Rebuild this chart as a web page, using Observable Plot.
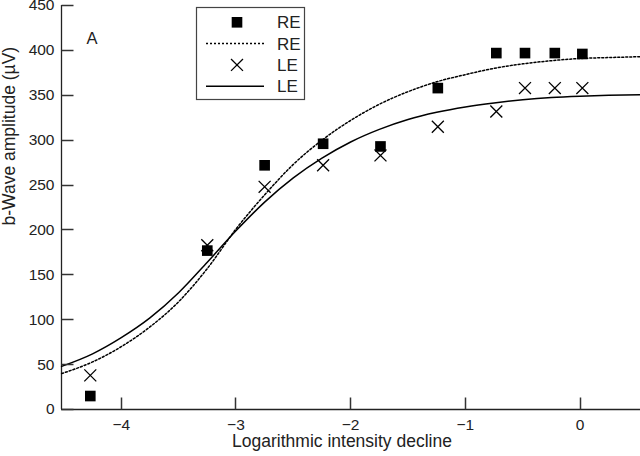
<!DOCTYPE html>
<html><head><meta charset="utf-8">
<script src="https://cdn.jsdelivr.net/npm/d3@7"></script>
<script src="https://cdn.jsdelivr.net/npm/@observablehq/plot@0.6"></script>
<style>
body{margin:0;background:#fff;}
#chart{width:640px;height:456px;}
</style></head><body><div id="chart"></div>
<script>
// Measured data points
const pointX   = [-4.27, -3.25, -2.75, -2.24, -1.74, -1.24, -0.73, -0.48, -0.22, 0.02];
const reValues = [15, 177, 272, 296, 293, 358, 397, 397, 397, 396];
const leValues = [38, 183, 248, 272, 283, 315, 332, 358, 358, 358];

// Fitted curves
const fitX  = [-4.52, -4.25, -4.0, -3.75, -3.5, -3.25, -3.0, -2.75, -2.5, -2.25, -2.0, -1.75, -1.5, -1.25, -1.0, -0.75, -0.5, -0.25, 0, 0.25, 0.53];
const reFit = [40, 53, 70, 92, 120, 157, 201, 239, 273, 300, 322, 340, 354, 365, 373, 380, 385, 388.5, 391, 392, 393];
const leFit = [48, 62, 80, 102, 130, 164, 199, 231, 258, 280, 298, 312, 323, 331, 337, 341.5, 345, 347.5, 349, 350, 350.5];

const xDomain = [-4.521, 0.527];
const yDomain = [0, 450];
const xTicks = [-4, -3, -2, -1, 0];
const yTicks = [0, 50, 100, 150, 200, 250, 300, 350, 400, 450];

const xLabel = "Logarithmic intensity decline";
const yLabel = "b-Wave amplitude (\u00b5V)";
const panelLabel = "A";
const legendItems = [
  {label: "RE", kind: "square"},
  {label: "RE", kind: "dotted"},
  {label: "LE", kind: "times"},
  {label: "LE", kind: "solid"}
];

const reData = pointX.map((x, i) => ({x, y: reValues[i]}));
const leData = pointX.map((x, i) => ({x, y: leValues[i]}));
const fitData = fitX.map((x, i) => ({x, re: reFit[i], le: leFit[i]}));

const W = 640, H = 456, mL = 61, mR = 0, mT = 5, mB = 47;
const tickLen = 12; // px, inward ticks

const ink = "#222";
const font = "'Liberation Sans', Arial, Helvetica, sans-serif";
const fmt = d => d < 0 ? "\u2212" + (-d) : String(d);

const plot = Plot.plot({
  width: W, height: H,
  marginLeft: mL, marginRight: mR, marginTop: mT, marginBottom: mB,
  style: {fontFamily: font, fontSize: "15px", color: ink, background: "white", overflow: "visible"},
  x: {domain: xDomain},
  y: {domain: yDomain},
  marks: [
    Plot.ruleX([xDomain[0]], {stroke: ink, strokeWidth: 1.3}),
    Plot.ruleY([yDomain[0]], {stroke: ink, strokeWidth: 1.3}),
    Plot.axisX(xTicks, {tickSize: 0, tickPadding: 9, label: null, tickFormat: fmt, fontSize: 15.5}),
    Plot.axisY(yTicks, {tickSize: 0, tickPadding: 7, label: null, tickFormat: fmt, fontSize: 15.5}),
    Plot.line(fitData, {x: "x", y: "re", curve: "monotone-x", stroke: "black", strokeWidth: 1.5, strokeDasharray: "2,2"}),
    Plot.line(fitData, {x: "x", y: "le", curve: "monotone-x", stroke: "black", strokeWidth: 1.5}),
    Plot.dot(reData, {x: "x", y: "y", symbol: "square", r: 6, fill: "black", stroke: "none"}),
    Plot.dot(leData, {x: "x", y: "y", symbol: "times", r: 5.5, stroke: "black", strokeWidth: 1.3}),
    Plot.text([panelLabel], {frameAnchor: "top-left", dx: 25, dy: 26.5, fontSize: 16.5, fill: ink}),
    Plot.text([xLabel], {frameAnchor: "bottom", dx: -9, dy: 37, fontSize: 17.5, fill: ink}),
    Plot.text([yLabel], {frameAnchor: "left", rotate: -90, dx: -52, dy: 18, fontSize: 17.5, fill: ink, letterSpacing: "1.1px"})
  ]
});

const svg = d3.select(plot);
const sx = plot.scale("x"), sy = plot.scale("y");

// Inward tick marks, placed through the plot's own scales
const tg = svg.append("g").attr("stroke", "#333").attr("stroke-width", 1.5).attr("fill", "none");
const y0 = Math.round(sy.apply(yDomain[0])) + 0.5;
const x0 = Math.round(sx.apply(xDomain[0])) + 0.5;
xTicks.forEach(t => {
  const px = Math.round(sx.apply(t)) + 0.5;
  tg.append("path").attr("d", `M${px},${y0}V${y0 - tickLen}`);
});
yTicks.forEach(t => {
  const py = Math.round(sy.apply(t)) + 0.5;
  tg.append("path").attr("d", `M${x0},${py}H${x0 + tickLen}`);
});

// Legend box
const lg = svg.append("g").attr("font-family", font).attr("font-size", 17).attr("fill", ink).attr("text-anchor", "start");
lg.append("rect").attr("x", 196.5).attr("y", 7.5).attr("width", 108).attr("height", 92)
  .attr("fill", "white").attr("stroke", "#444").attr("stroke-width", 1.2);
legendItems.forEach((d, i) => {
  const cy = 22.3 + i * 21.3;
  if (d.kind === "square") {
    lg.append("path").attr("d", d3.symbol(d3.symbolSquare, Math.PI * 36)()).attr("transform", `translate(237,${cy})`).attr("fill", "black");
  } else if (d.kind === "times") {
    lg.append("path").attr("d", d3.symbol(d3.symbolTimes, Math.PI * 30.25)()).attr("transform", `translate(237,${cy})`).attr("fill", "none").attr("stroke", "black").attr("stroke-width", 1.3);
  } else {
    lg.append("line").attr("x1", 206).attr("x2", 264).attr("y1", cy).attr("y2", cy)
      .attr("stroke", "black").attr("stroke-width", 1.5)
      .attr("stroke-dasharray", d.kind === "dotted" ? "2,2" : null);
  }
  lg.append("text").attr("x", 277).attr("y", cy).attr("dy", "0.36em").attr("text-anchor", "start").text(d.label);
});

document.getElementById("chart").appendChild(plot);
</script>
</body></html>
